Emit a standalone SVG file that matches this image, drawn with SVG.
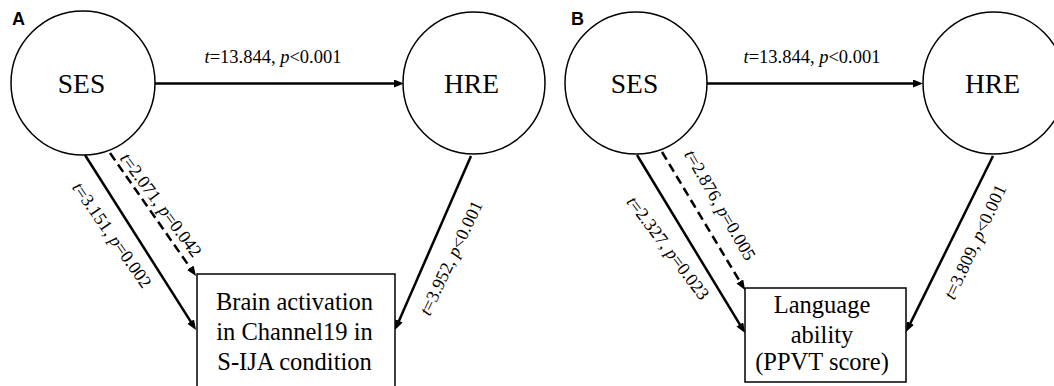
<svg xmlns="http://www.w3.org/2000/svg" width="1054" height="386" viewBox="0 0 1054 386">
<style>
.node{fill:#fff;stroke:#000;stroke-width:1.5}
.nt{font-family:"Liberation Serif","Times New Roman",serif;fill:#000;text-anchor:middle}
.big{font-size:27.5px}
.box{font-size:24.5px}
.lab{font-family:"Liberation Serif","Times New Roman",serif;font-size:18.5px;fill:#000;text-anchor:middle}
.rl{font-size:18px}
.panel{font-family:"Liberation Sans",Arial,sans-serif;font-weight:bold;font-size:18px;fill:#000}
.c{fill:none;stroke:#000;stroke-width:2.5;marker-end:url(#ah)}
.d{stroke-dasharray:9 5}
</style>
<defs>
<marker id="ah" markerUnits="userSpaceOnUse" viewBox="0 0 10 8" refX="4" refY="4" markerWidth="10" markerHeight="8" orient="auto">
<path d="M0,0 L10,4 L0,8 z" fill="#000"/>
</marker>
</defs>
<g id="connectors">
<line class="c" x1="155" y1="83.5" x2="398" y2="83.5"/>
<line class="c" x1="85" y1="155" x2="192.8" y2="324.9"/>
<line class="c d" x1="110" y1="153" x2="192.6" y2="271.1"/>
<line class="c" x1="471" y1="156" x2="397.4" y2="324.5"/>
<line class="c" x1="707" y1="83.5" x2="917" y2="83.5"/>
<line class="c" x1="637" y1="155" x2="741.9" y2="327.9"/>
<line class="c d" x1="662" y1="152" x2="741.9" y2="284.9"/>
<line class="c" x1="993" y1="156" x2="908.7" y2="326.6"/>
</g>
<g id="labels">
<text class="lab" x="273" y="63"><tspan font-style="italic">t</tspan>=13.844, <tspan font-style="italic">p</tspan>&lt;0.001</text>
<text class="lab" x="812" y="63"><tspan font-style="italic">t</tspan>=13.844, <tspan font-style="italic">p</tspan>&lt;0.001</text>
<text class="lab rl" transform="translate(112,235) rotate(55)" x="0" y="6"><tspan font-style="italic">t</tspan>=3.151, <tspan font-style="italic">p</tspan>=0.002</text>
<text class="lab rl" transform="translate(161,205) rotate(53.5)" x="0" y="6"><tspan font-style="italic">t</tspan>=2.071, <tspan font-style="italic">p</tspan>=0.042</text>
<text class="lab rl" transform="translate(451,258) rotate(-64.5)" x="0" y="6"><tspan font-style="italic">t</tspan>=3.952, <tspan font-style="italic">p</tspan>&lt;0.001</text>
<text class="lab rl" transform="translate(668,248) rotate(53)" x="0" y="6"><tspan font-style="italic">t</tspan>=2.327, <tspan font-style="italic">p</tspan>=0.023</text>
<text class="lab rl" transform="translate(720,205) rotate(60)" x="0" y="6"><tspan font-style="italic">t</tspan>=2.876, <tspan font-style="italic">p</tspan>=0.005</text>
<text class="lab rl" transform="translate(975,242) rotate(-65)" x="0" y="6"><tspan font-style="italic">t</tspan>=3.809, <tspan font-style="italic">p</tspan>&lt;0.001</text>
</g>
<g id="panelA">
<text class="panel" x="12" y="25">A</text>
</g>
<g id="panelB">
<text class="panel" x="571" y="25">B</text>
</g>
<g id="A_SES">
<circle class="node" cx="83" cy="83" r="72"/>
<text class="nt big" x="81.5" y="93">SES</text>
</g>
<g id="A_HRE">
<circle class="node" cx="474" cy="83" r="71"/>
<text class="nt big" x="471.5" y="93">HRE</text>
</g>
<g id="A_Brain">
<rect class="node" x="197" y="274" width="198" height="130"/>
<text class="nt box" x="294.5" y="310">Brain activation</text>
<text class="nt box" x="294.5" y="340">in Channel19 in</text>
<text class="nt box" x="294.5" y="370">S-IJA condition</text>
</g>
<g id="B_SES">
<circle class="node" cx="636" cy="83" r="71"/>
<text class="nt big" x="634.5" y="93">SES</text>
</g>
<g id="B_HRE">
<circle class="node" cx="994" cy="83" r="71"/>
<text class="nt big" x="992.5" y="93">HRE</text>
</g>
<g id="B_Language">
<rect class="node" x="745" y="288" width="161" height="94"/>
<text class="nt box" x="822" y="313">Language</text>
<text class="nt box" x="822" y="343">ability</text>
<text class="nt box" x="822" y="370">(PPVT score)</text>
</g>
</svg>
